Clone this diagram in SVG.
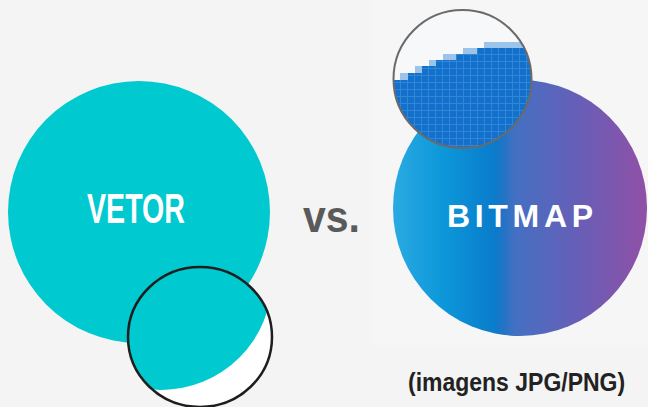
<svg xmlns="http://www.w3.org/2000/svg" width="648" height="407" viewBox="0 0 648 407">
  <style>
    .teal { fill: #00c9cf; }
    .cond { font-family: "Liberation Sans", Arial, sans-serif; font-weight: bold; }
    .light { fill: #9cc4ea; }
  </style>
  <defs>
    <linearGradient id="bmpGrad" x1="393" y1="0" x2="647" y2="0" gradientUnits="userSpaceOnUse">
      <stop offset="0" stop-color="#2aaae2"/>
      <stop offset="0.2" stop-color="#0c97da"/>
      <stop offset="0.4" stop-color="#0a7ccb"/>
      <stop offset="0.43" stop-color="#1e74c6"/>
      <stop offset="0.48" stop-color="#4470c2"/>
      <stop offset="0.75" stop-color="#6a5db6"/>
      <stop offset="1" stop-color="#9150a6"/>
    </linearGradient>
    <pattern id="px" x="394" y="41" width="7" height="7" patternUnits="userSpaceOnUse">
      <rect width="7" height="7" fill="#1271cd"/>
      <path d="M6.5,0 V7 M0,6.5 H7" stroke="#3585d5" stroke-width="1"/>
    </pattern>
    <clipPath id="lensL">
      <ellipse cx="200" cy="337" rx="72" ry="70"/>
    </clipPath>
    <clipPath id="lensR">
      <circle cx="462.5" cy="79" r="69"/>
    </clipPath>
  </defs>

  <rect width="648" height="407" fill="#f4f4f4"/>
  <rect x="372" y="0" width="276" height="345" fill="#f6f6f6"/>

  <g id="vetor">
    <circle class="teal" cx="139" cy="212" r="131"/>
    <text class="cond" x="136" y="223" font-size="42" fill="#ffffff" text-anchor="middle" textLength="98" lengthAdjust="spacingAndGlyphs">VETOR</text>
  </g>

  <g id="vetor-lens">
    <ellipse cx="200" cy="337" rx="72" ry="70" fill="#ffffff"/>
    <circle class="teal" cx="161" cy="279" r="111" clip-path="url(#lensL)"/>
    <ellipse cx="200" cy="337" rx="72" ry="70" fill="none" stroke="#1e1e1e" stroke-width="2.5"/>
  </g>

  <g id="vs">
    <text class="cond" x="303" y="232" font-size="44" fill="#5a5a5a" textLength="57" lengthAdjust="spacingAndGlyphs">vs.</text>
  </g>

  <g id="bitmap">
    <ellipse cx="520" cy="208" rx="127" ry="128" fill="url(#bmpGrad)"/>
    <text class="cond" x="447" y="227" font-size="32" fill="#ffffff" textLength="146" lengthAdjust="spacing">BITMAP</text>
  </g>

  <g id="bitmap-lens">
    <circle cx="462.5" cy="79" r="69" fill="#f6f8fa"/>
    <g clip-path="url(#lensR)">
      <path d="M390,160 V80 H408 V73 H422 V66 H436 V60 H456 V54 H477 V48 H540 V160 Z" fill="url(#px)"/>
      <rect class="light" x="400" y="73" width="8" height="7"/>
      <rect class="light" x="415" y="66" width="7" height="7"/>
      <rect class="light" x="429" y="60" width="7" height="6"/>
      <rect class="light" x="443" y="54" width="13" height="6"/>
      <rect class="light" x="463" y="48" width="14" height="6"/>
      <rect class="light" x="484" y="42" width="40" height="6"/>
    </g>
    <circle cx="462.5" cy="79" r="69" fill="none" stroke="#6a6a6a" stroke-width="2"/>
  </g>

  <g id="caption">
    <text class="cond" transform="translate(408,391) scale(1,1.15)" x="0" y="0" font-size="23" fill="#222222">(imagens JPG/PNG)</text>
  </g>
</svg>
